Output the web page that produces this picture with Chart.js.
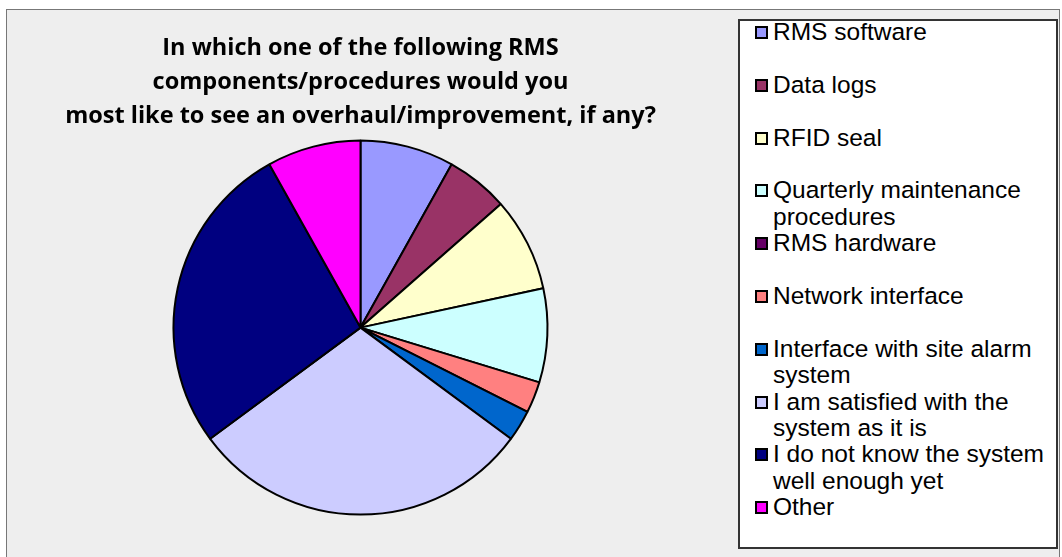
<!DOCTYPE html>
<html>
<head>
<meta charset="utf-8">
<script src="https://cdn.jsdelivr.net/npm/chart.js@4"></script>
<style>
  html, body { margin: 0; padding: 0; background: #fff; }
  body { width: 1062px; height: 557px; position: relative; overflow: hidden; }
  #frame {
    position: absolute; left: 6px; top: 9px; width: 1054px; height: 560px;
    box-sizing: border-box; background: #eeeeee; border: 1px solid #777;
  }
  #chartwrap { position: absolute; left: 0; top: 0; width: 726px; height: 557px; }
  #legendbox {
    position: absolute; left: 738px; top: 19px; width: 320px; height: 530px;
    box-sizing: border-box; background: #fff; border: 2px solid #333;
  }
  #legend {
    position: absolute; left: 755px; top: 19px; margin: 0; padding: 0; list-style: none;
    font-family: "Liberation Sans", Arial, sans-serif; font-size: 24.5px; line-height: 26.4px; color: #000;
  }
  #legend li { display: flex; height: 52.8px; }
  #legend .box {
    flex: none; width: 13px; height: 13px; margin-top: 7px; margin-right: 5px;
    box-sizing: border-box; border: 2px solid #000;
  }
  #legend .txt { width: 286px; }
</style>
</head>
<body>
<div id="frame"></div>
<div id="chartwrap"><canvas id="piechart" width="726" height="557"></canvas></div>
<div id="legendbox"></div>
<ul id="legend"></ul>
<script>
const titleLines = [
  "In which one of the following RMS",
  "components/procedures would you",
  "most like to see an overhaul/improvement, if any?",
];

const categories = [
  "RMS software",
  "Data logs",
  "RFID seal",
  "Quarterly maintenance procedures",
  "RMS hardware",
  "Network interface",
  "Interface with site alarm system",
  "I am satisfied with the system as it is",
  "I do not know the system well enough yet",
  "Other",
];

const responses = [3, 2, 3, 3, 0, 1, 1, 11, 10, 3];

const sliceColors = [
  "#9999ff",
  "#993366",
  "#ffffcc",
  "#ccffff",
  "#660066",
  "#ff8080",
  "#0066cc",
  "#ccccff",
  "#000080",
  "#ff00ff",
];

// html legend, built from the same arrays
const legendEl = document.getElementById("legend");
categories.forEach((name, i) => {
  const li = document.createElement("li");
  const box = document.createElement("span");
  box.className = "box";
  box.style.background = sliceColors[i];
  const txt = document.createElement("span");
  txt.className = "txt";
  txt.textContent = name;
  li.appendChild(box);
  li.appendChild(txt);
  legendEl.appendChild(li);
});

const piechart = new Chart(document.getElementById("piechart"), {
  type: "pie",
  data: {
    labels: categories,
    datasets: [
      {
        data: responses,
        backgroundColor: sliceColors,
        borderColor: "#000",
        borderWidth: 2,
      },
    ],
  },
  options: {
    responsive: false,
    animation: false,
    radius: 187,
    layout: { padding: { left: 0, right: 5, top: 0, bottom: 41 } },
    plugins: {
      legend: { display: false },
      tooltip: { enabled: false },
      title: {
        display: true,
        text: titleLines,
        color: "#000",
        font: { family: "Open Sans", size: 23.5, weight: "bold", lineHeight: 1.45 },
        padding: { top: 31, bottom: 6 },
      },
    },
  },
});
</script>
</body>
</html>
